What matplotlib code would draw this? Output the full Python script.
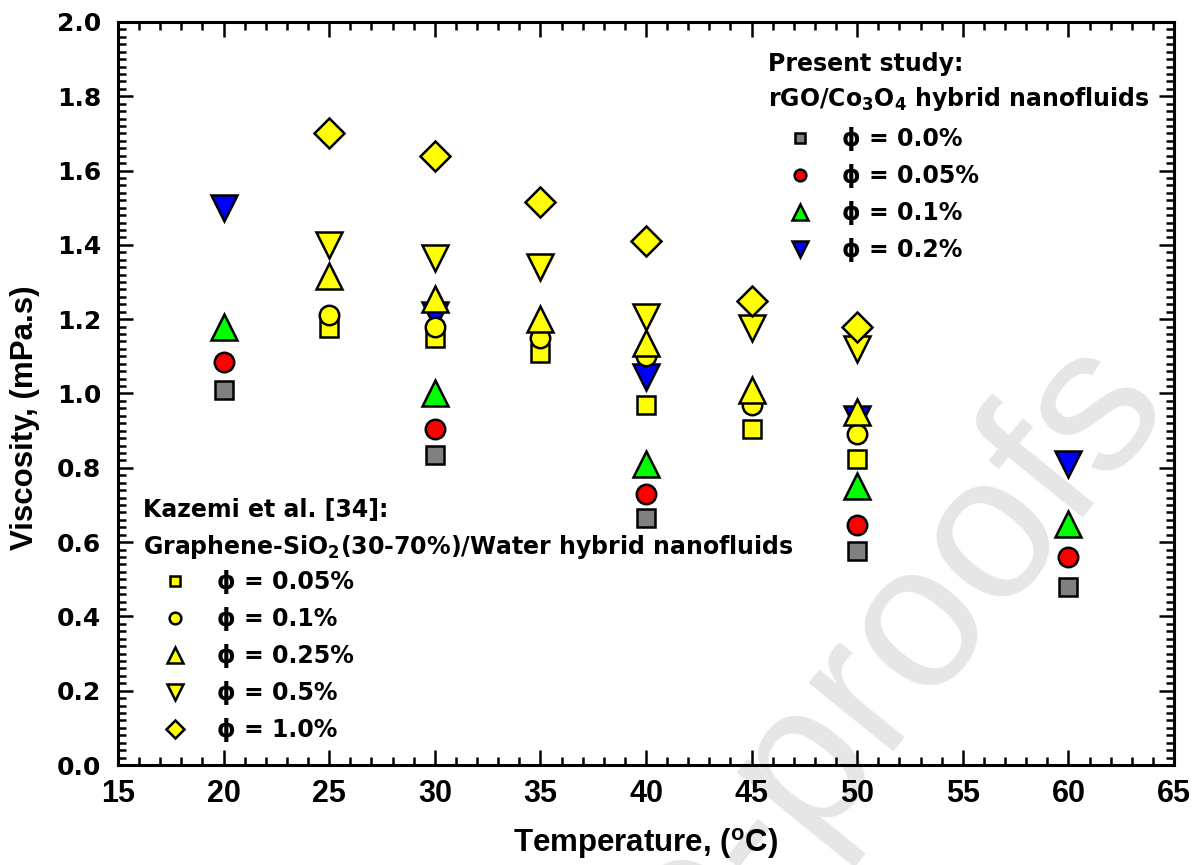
import matplotlib
matplotlib.use('Agg')
import matplotlib.pyplot as plt
from matplotlib.ticker import MultipleLocator
from matplotlib.lines import Line2D

plt.rcParams['mathtext.default'] = 'regular'

ARIAL = ['Liberation Sans', 'DejaVu Sans']
WIDE = ['DejaVu Sans']

# --- present study: rGO/Co3O4 hybrid nanofluids ---
temp_present = [20, 30, 40, 50, 60]
visc_00 = [1.01, 0.835, 0.665, 0.575, 0.48]
visc_005 = [1.085, 0.905, 0.73, 0.645, 0.56]
visc_01 = [1.18, 1.00, 0.81, 0.75, 0.65]
visc_02 = [1.50, 1.21, 1.045, 0.93, 0.81]

# --- Kazemi et al. [34]: Graphene-SiO2/water ---
temp_kazemi = [25, 30, 35, 40, 45, 50]
kz_005 = [1.175, 1.15, 1.11, 0.97, 0.905, 0.825]
kz_01 = [1.21, 1.18, 1.15, 1.10, 0.97, 0.89]
kz_025 = [1.315, 1.255, 1.20, 1.135, 1.01, 0.95]
kz_05 = [1.40, 1.365, 1.34, 1.205, 1.175, 1.12]
kz_10 = [1.70, 1.64, 1.515, 1.41, 1.25, 1.18]

present_labels = ['ϕ = 0.0%', 'ϕ = 0.05%', 'ϕ = 0.1%', 'ϕ = 0.2%']
kazemi_labels = ['ϕ = 0.05%', 'ϕ = 0.1%', 'ϕ = 0.25%', 'ϕ = 0.5%', 'ϕ = 1.0%']

sizes = {'s': 13, 'o': 14, '^': 19, 'v': 19, 'D': 15}

fig = plt.figure(figsize=(12.03, 8.65), dpi=100)
ax = fig.add_axes([0.0981, 0.1156, 0.8778, 0.859])
ax.set_facecolor('none')

# faint watermark behind everything
fig.text(0.975, 0.53, 'Journal Pre-proofs', fontsize=148, color='#e6e6e6',
         family=ARIAL, rotation=51, rotation_mode='anchor',
         ha='right', va='baseline', zorder=-5)

present = [(visc_00, 's', '#808080'), (visc_005, 'o', '#ff0000'),
           (visc_01, '^', '#00ff00'), (visc_02, 'v', '#0000ff')]
for vals, m, c in present:
    ax.plot(temp_present, vals, linestyle='none', marker=m, markersize=sizes[m],
            markerfacecolor=c, markeredgecolor='black', markeredgewidth=1.8, zorder=3)

kazemi = [(kz_005, 's'), (kz_01, 'o'), (kz_025, '^'), (kz_05, 'v'), (kz_10, 'D')]
for vals, m in kazemi:
    ax.plot(temp_kazemi, vals, linestyle='none', marker=m, markersize=sizes[m],
            markerfacecolor='#ffff00', markeredgecolor='black', markeredgewidth=1.8, zorder=4)

ax.set_xlim(15, 65)
ax.set_ylim(0, 2.0)
ax.xaxis.set_major_locator(MultipleLocator(5))
ax.xaxis.set_minor_locator(MultipleLocator(1))
ax.yaxis.set_major_locator(MultipleLocator(0.2))
ax.yaxis.set_minor_locator(MultipleLocator(0.02))
ax.tick_params(which='both', direction='in', top=True, right=True, width=1.8, color='black')
ax.tick_params(which='major', length=11)
ax.tick_params(which='minor', length=5.5)
ax.tick_params(axis='x', pad=10)
ax.tick_params(axis='y', pad=12)
for sp in ax.spines.values():
    sp.set_linewidth(2.2)

ax.set_xticks(range(15, 70, 5))
ax.set_xticklabels([str(t) for t in range(15, 70, 5)], family=ARIAL, fontsize=22, fontweight='bold')
yt = [round(0.2 * i, 1) for i in range(11)]
ax.set_yticks(yt)
ax.set_yticklabels([f'{v:.1f}' for v in yt], family=WIDE, fontsize=18, fontweight='bold')

ax.set_xlabel('Temperature, ($^{o}$C)', family=ARIAL, fontsize=22.5, fontweight='bold', labelpad=12)
ax.set_ylabel('Viscosity, (mPa.s)', family=ARIAL, fontsize=22.5, fontweight='bold')
ax.yaxis.set_label_coords(-0.074, 0.468)

# legend headings
head = dict(family=WIDE, fontsize=17, fontweight='bold', transform=ax.transAxes,
            va='baseline', ha='left')
ax.text(0.6155, 0.934, 'Present study:', **head)
ax.text(0.6155, 0.887, 'rGO/Co$_3$O$_4$ hybrid nanofluids', **head)
ax.text(0.0237, 0.334, 'Kazemi et al. [34]:', **head)
ax.text(0.0237, 0.284, 'Graphene-SiO$_2$(30-70%)/Water hybrid nanofluids', **head)

def handles(specs):
    return [Line2D([], [], linestyle='none', marker=m, markersize=sizes[m] * 0.6,
                   markerfacecolor=c, markeredgecolor='black', markeredgewidth=1.8)
            for m, c in specs]

h1 = handles([(m, c) for _, m, c in present])
h2 = handles([(m, '#ffff00') for _, m in kazemi])
lp = dict(family=WIDE, size=17, weight='bold')
opts = dict(loc='upper left', frameon=False, prop=lp, borderpad=0, borderaxespad=0,
            handlelength=2.71, handletextpad=0.42, labelspacing=0.55)
leg1 = ax.legend(h1, present_labels, bbox_to_anchor=(0.6155, 0.858), **opts)
ax.add_artist(leg1)
ax.legend(h2, kazemi_labels, bbox_to_anchor=(0.0237, 0.2625), **opts)

fig.savefig('out.png', dpi=100)
